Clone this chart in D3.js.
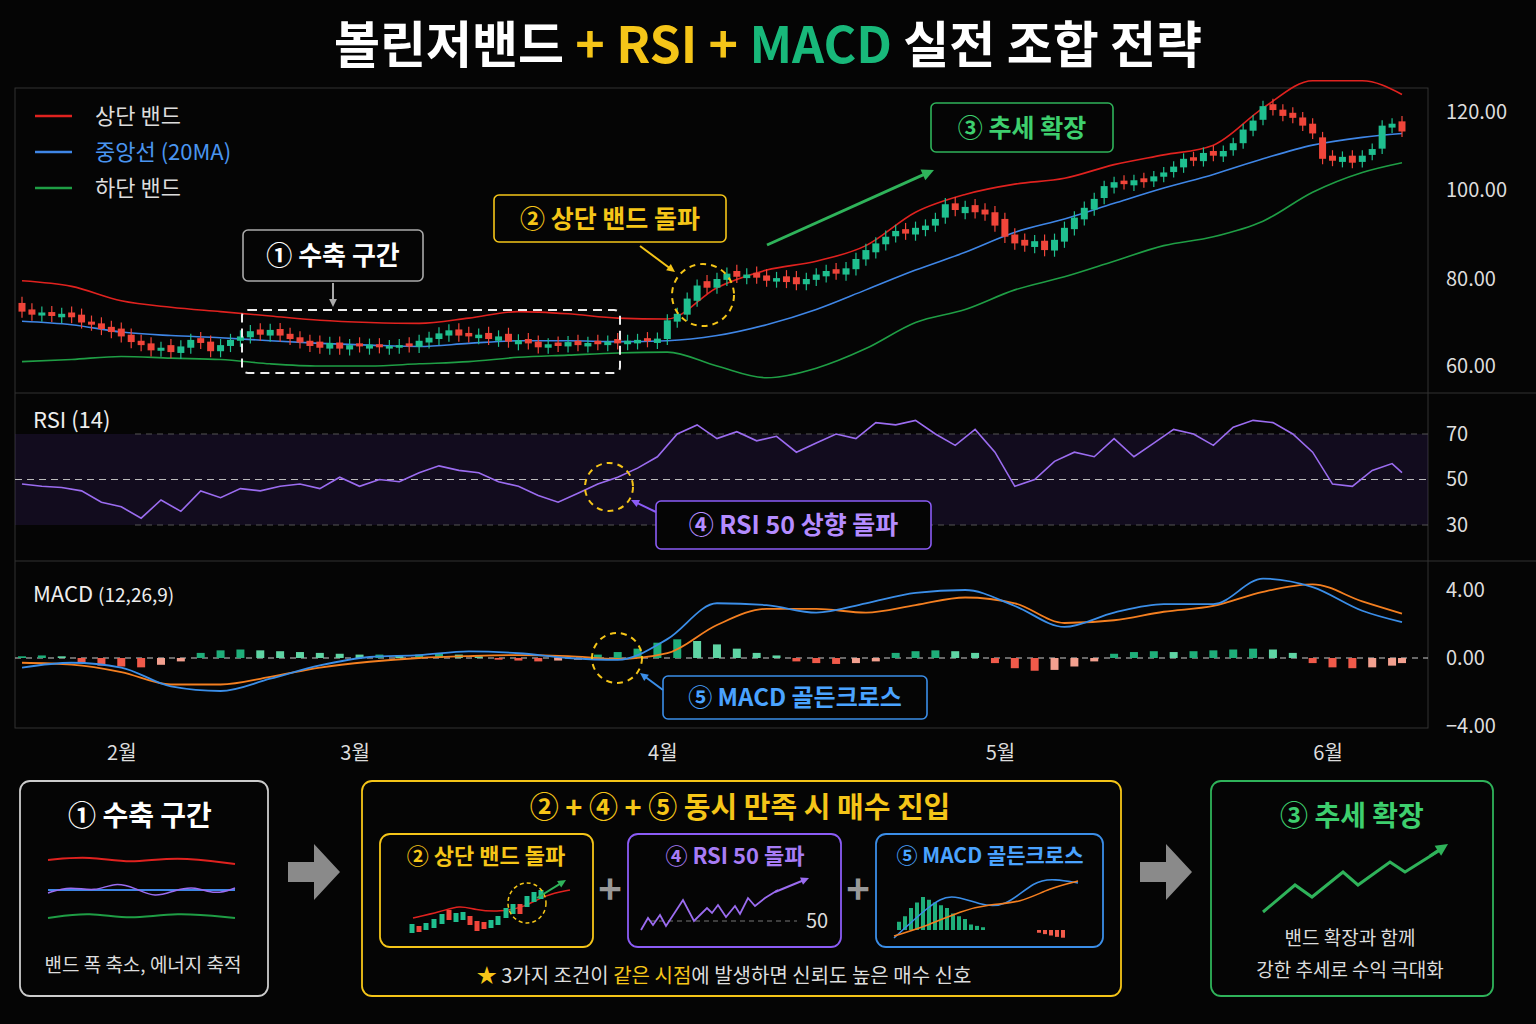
<!DOCTYPE html>
<html><head><meta charset="utf-8">
<script src="https://cdn.jsdelivr.net/npm/d3@7/dist/d3.min.js"></script>
<style>body{margin:0;background:#050505}svg{display:block}text{font-family:"Noto Sans CJK KR","Noto Sans",sans-serif}</style>
</head><body><svg id="c" width="1536" height="1024"></svg>
<script>
const closes=[72.5,71.8,72.3,71.5,72.0,71.2,70.0,69.5,68.5,67.8,
66.8,65.5,64.8,63.6,64.2,63.2,64.5,66.0,65.3,63.4,
64.8,66.0,66.8,68.0,67.2,68.3,67.0,66.2,65.4,64.6,
64.2,65.3,64.0,64.8,64.5,64.9,64.3,64.6,64.8,64.5,
65.8,66.5,67.5,68.2,67.0,66.8,67.2,66.2,66.8,65.6,
65.9,65.2,64.3,65.0,64.6,65.5,64.8,65.3,65.0,65.6,
65.2,65.8,66.0,65.7,66.3,70.5,72.0,75.5,78.5,78.0,
80.0,81.2,80.5,81.0,80.3,79.6,80.2,79.3,78.8,80.0,
81.0,81.8,81.2,82.4,84.5,86.5,88.0,89.5,90.8,90.2,
91.5,92.0,93.5,96.8,95.5,96.2,95.0,94.5,92.0,89.5,
88.0,87.5,88.5,86.5,88.8,91.5,93.8,96.0,98.0,101.0,
102.0,101.5,102.5,102.0,103.5,104.5,106.0,108.0,107.5,109.5,
108.8,110.0,112.0,115.5,117.8,121.5,120.5,119.0,118.5,116.5,
114.5,108.0,107.5,108.5,107.0,108.8,110.5,116.5,117.0,115.0];
const opens=[74.5,73.0,71.6,72.4,71.2,72.3,71.8,70.2,69.8,69.0,
68.6,67.2,65.8,65.2,63.5,64.8,63.0,64.2,66.4,65.6,
63.4,64.6,65.8,66.6,68.4,67.0,68.5,67.4,66.6,65.8,
65.6,64.0,65.4,63.8,65.2,64.0,65.0,64.0,64.2,65.2,
64.4,65.4,66.2,67.0,68.4,67.6,66.4,67.6,65.8,67.4,
65.0,66.2,65.6,64.2,65.4,64.5,65.8,64.5,65.8,64.8,
66.2,65.0,65.2,66.4,65.3,66.2,70.2,71.8,75.0,79.5,
78.0,79.8,81.8,80.2,81.4,80.8,79.4,80.6,80.4,78.8,
79.8,80.6,82.2,81.0,82.2,84.4,86.0,87.8,89.6,91.2,
90.0,91.0,92.0,93.8,97.0,94.8,96.6,95.6,95.0,93.5,
90.0,88.8,87.2,88.6,86.4,88.4,91.2,93.4,95.6,98.2,
100.6,102.4,101.2,103.0,102.2,103.4,104.6,105.8,108.4,107.4,
110.0,108.6,110.2,112.0,115.2,118.0,122.0,120.6,119.8,118.6,
117.0,113.5,108.8,107.2,108.8,107.2,109.0,110.6,116.0,117.6];
const bandIdx=[0,5,10,15,20,25,30,35,40,45,50,55,60,65,70,75,80,85,90,95,100,105,110,115,120,125,130,135,139];
const upper=[79.6,78.3,75.0,73.5,72.5,71.5,70.5,70.0,69.8,71.0,72.5,72.0,71.0,70.8,78.0,82.0,84.0,87.5,95.0,99.0,101.5,103.0,106.5,109.0,111.5,121.0,128.0,128.0,124.5];
const middle=[70.3,69.5,67.8,67.0,66.5,65.8,65.2,64.8,64.5,65.2,65.8,65.8,65.6,65.8,67.0,69.5,73.0,77.5,82.0,86.0,90.5,93.5,97.0,100.5,104.0,108.0,111.5,113.5,114.5];
const lower=[61.0,61.5,62.2,61.8,61.5,60.5,60.0,60.0,60.5,61.0,62.0,62.5,63.0,63.2,60.0,57.3,59.5,64.0,70.0,73.0,77.5,80.5,84.0,87.5,89.5,93.0,99.5,104.5,107.0];
const rsi=[48,47,46.5,45,40,38,33,41,36,45,42,46,45,47,48,46,51,47,50,49,53,56,54,53,49,47,43,40,44,48,51,55,60,70,74,68,71,67,69,62,66,70,68,75,74,76,70,65,72,62,47,50,58,62,60,68,60,66,72,70,65,73,76,75,70,62,48,47,54,57,53];
const macd=[-0.56,-0.28,-0.56,-1.67,-1.94,-1.22,-0.44,0.06,0.17,0.39,0.28,0,-0.11,1.11,3.22,3.11,2.67,3.22,3.83,4.0,3.06,1.83,2.67,3.17,3.17,4.67,4.17,2.78,2.11];
const signal=[-0.28,-0.39,-0.83,-1.56,-1.56,-1.11,-0.56,-0.22,0,0.11,0.17,0.11,-0.06,0.28,1.94,2.89,2.89,2.67,3.11,3.56,3.22,2.06,2.22,2.72,3.06,3.89,4.33,3.33,2.61];
const hist=[0.1,0.15,0.1,-0.3,-0.45,-0.5,-0.55,-0.4,-0.2,0.3,0.45,0.5,0.45,0.4,0.35,0.3,0.25,0.2,0.2,0.15,0.2,0.25,0.2,0.1,-0.1,-0.15,-0.2,-0.15,-0.1,0.2,0.35,0.55,0.9,1.1,1.0,0.8,0.55,0.3,0.15,-0.2,-0.3,-0.35,-0.3,-0.2,0.3,0.4,0.45,0.4,0.3,-0.3,-0.6,-0.75,-0.7,-0.5,-0.2,0.25,0.35,0.4,0.35,0.4,0.45,0.5,0.55,0.5,0.3,-0.3,-0.55,-0.6,-0.55,-0.45,-0.3];
const monthIdx=[10,33.5,64.5,98.5,131.5];
const monthLabels=["2월","3월","4월","5월","6월"];
const priceTicks=[60,80,100,120];
const rsiTicks=[30,50,70];
const macdTicks=[-4,0,4];

const svg=d3.select("#c");
const L=15,R=1428;
const x=d3.scaleLinear().domain([0,139]).range([22,1402]);
const yP=d3.scaleLinear().domain([60,80,100,120]).range([366,279,190,112]);
const yR=d3.scaleLinear().domain([30,70]).range([525,434]);
const yM=d3.scaleLinear().domain([-4,4]).range([726,590]);

const t=svg.append("text").attr("x",768).attr("y",63).attr("text-anchor","middle").attr("font-size",50).attr("font-weight",700);
t.append("tspan").attr("fill","#fff").text("볼린저밴드 ");
t.append("tspan").attr("fill","#f5c518").text("+ RSI + ");
t.append("tspan").attr("fill","#18b87a").text("MACD");
t.append("tspan").attr("fill","#fff").text(" 실전 조합 전략");

svg.append("rect").attr("x",L).attr("y",88).attr("width",R-L).attr("height",640).attr("fill","none").attr("stroke","#333");
[393,561].forEach(v=>svg.append("line").attr("x1",L).attr("x2",1536).attr("y1",v).attr("y2",v).attr("stroke","#333"));

const ax=(sc,ticks,fmt)=>svg.append("g").attr("transform",`translate(${R},0)`).call(d3.axisRight(sc).tickValues(ticks).tickFormat(fmt).tickSize(0).tickPadding(18))
 .call(g=>{g.select(".domain").remove();g.selectAll("text").attr("fill","#ddd").attr("font-size",20).attr("font-family","Noto Sans, sans-serif");});
ax(yP,priceTicks,d3.format(".2f"));
ax(yR,rsiTicks,d3.format("d"));
ax(yM,macdTicks,d3.format(".2f"));

svg.append("g").attr("transform","translate(0,738)").call(d3.axisBottom(x).tickValues(monthIdx).tickFormat((d,i)=>monthLabels[i]).tickSize(0).tickPadding(8))
 .call(g=>{g.select(".domain").remove();g.selectAll("text").attr("fill","#ddd").attr("font-size",20);});

const band=(arr,sc,col,w)=>svg.append("path").datum(arr.map((v,i)=>[bandIdx[i],v])).attr("d",d3.line().x(d=>x(d[0])).y(d=>sc(d[1])).curve(d3.curveMonotoneX)).attr("fill","none").attr("stroke",col).attr("stroke-width",w);
band(upper,yP,"#e0221f",1.6);band(middle,yP,"#3f86e6",1.6);band(lower,yP,"#1f9e45",1.6);

const cg=svg.append("g");
closes.forEach((c,i)=>{const o=opens[i],up=c>=o,col=up?"#1fbf8f":"#f0453a";
 cg.append("line").attr("x1",x(i)).attr("x2",x(i)).attr("y1",yP(Math.max(o,c)+1.4)).attr("y2",yP(Math.min(o,c)-1.4)).attr("stroke",col).attr("stroke-width",1.2);
 const y1=yP(Math.max(o,c)),h=Math.max(2,yP(Math.min(o,c))-y1);
 cg.append("rect").attr("x",x(i)-3.5).attr("width",7).attr("y",y1).attr("height",h).attr("fill",col);});

[["#e0221f","상단 밴드","#ddd"],["#3f86e6","중앙선 (20MA)","#4a95f0"],["#1f9e45","하단 밴드","#ddd"]].forEach((d,i)=>{
 svg.append("line").attr("x1",35).attr("x2",72).attr("y1",116+i*36).attr("y2",116+i*36).attr("stroke",d[0]).attr("stroke-width",2.5);
 svg.append("text").attr("x",95).attr("y",124+i*36).attr("fill",d[2]).attr("font-size",22).text(d[1]);});

svg.append("rect").attr("x",L).attr("y",yR(70)).attr("width",R-L).attr("height",yR(30)-yR(70)).attr("fill","rgba(110,60,200,0.13)");
[70,30].forEach(v=>svg.append("line").attr("x1",135).attr("x2",R).attr("y1",yR(v)).attr("y2",yR(v)).attr("stroke","#555").attr("stroke-dasharray","6,5"));
svg.append("line").attr("x1",L).attr("x2",R).attr("y1",yR(50)).attr("y2",yR(50)).attr("stroke","#bbb").attr("stroke-dasharray","7,5");
svg.append("path").datum(rsi).attr("d",d3.line().x((d,k)=>x(Math.min(139,k*2))).y(d=>yR(d))).attr("fill","none").attr("stroke","#9b6cf0").attr("stroke-width",1.6);
svg.append("text").attr("x",33).attr("y",428).attr("fill","#eee").attr("font-size",22).text("RSI (14)");

svg.append("line").attr("x1",L).attr("x2",R).attr("y1",yM(0)).attr("y2",yM(0)).attr("stroke","#ccc").attr("stroke-dasharray","6,5");
hist.forEach((v,k)=>{const prev=k?hist[k-1]:0;let col=v>=0?(v>=prev?"#1fae7a":"#5fd4a4"):(v<=prev?"#f05a4a":"#f3a08f");
 svg.append("rect").attr("x",x(Math.min(139,k*2))-4).attr("width",8).attr("y",Math.min(yM(v),yM(0))).attr("height",Math.abs(yM(v)-yM(0))).attr("fill",col);});
const ml=d3.line().x((d,i)=>x(bandIdx[i])).y(d=>yM(d)).curve(d3.curveMonotoneX);
svg.append("path").datum(signal).attr("d",ml).attr("fill","none").attr("stroke","#f47f20").attr("stroke-width",1.8);
svg.append("path").datum(macd).attr("d",ml).attr("fill","none").attr("stroke","#3b8ee8").attr("stroke-width",1.8);
const mt=svg.append("text").attr("x",33).attr("y",602).attr("fill","#eee").attr("font-size",22);
mt.append("tspan").text("MACD ");mt.append("tspan").attr("font-size",19).text("(12,26,9)");

function box(x0,y0,w,h,col,txt,tcol,fs){svg.append("rect").attr("x",x0).attr("y",y0).attr("width",w).attr("height",h).attr("rx",5).attr("fill","#050505").attr("stroke",col).attr("stroke-width",1.6);
 svg.append("text").attr("x",x0+w/2).attr("y",y0+h/2+fs*0.36).attr("text-anchor","middle").attr("fill",tcol).attr("font-size",fs).attr("font-weight",700).text(txt);}
function arrow(x1,y1,x2,y2,col,w){const a=Math.atan2(y2-y1,x2-x1),s=w*4.5;
 svg.append("line").attr("x1",x1).attr("y1",y1).attr("x2",x2-Math.cos(a)*s*0.8).attr("y2",y2-Math.sin(a)*s*0.8).attr("stroke",col).attr("stroke-width",w);
 svg.append("path").attr("d",`M${x2},${y2}L${x2-Math.cos(a-0.45)*s},${y2-Math.sin(a-0.45)*s}L${x2-Math.cos(a+0.45)*s},${y2-Math.sin(a+0.45)*s}Z`).attr("fill",col);}
function circ(cx,cy,r){svg.append("circle").attr("cx",cx).attr("cy",cy).attr("r",r).attr("fill","none").attr("stroke","#f5c518").attr("stroke-width",2).attr("stroke-dasharray","6,5");}
svg.append("rect").attr("x",242).attr("y",310).attr("width",378).attr("height",63).attr("rx",6).attr("fill","none").attr("stroke","#eee").attr("stroke-width",2).attr("stroke-dasharray","9,6");
box(243,230,180,51,"#aaa","① 수축 구간","#fff",26);
arrow(333,283,333,307,"#aaa",2);
box(494,195,232,47,"#f5c518","② 상단 밴드 돌파","#f5c518",25);
arrow(640,246,675,272,"#f5c518",2);
circ(703,295,31);
box(931,103,182,49,"#2fb35a","③ 추세 확장","#3ecf6e",25);
arrow(767,245,934,170,"#2fb35a",3);
circ(609,487,24);
box(656,501,275,48,"#8b5cf6","④ RSI 50 상향 돌파","#b48cff",25);
arrow(656,512,631,500,"#8b5cf6",2);
circ(617,658,25);
box(663,676,264,43,"#3b8ee8","⑤ MACD 골든크로스","#4aa3ff",24);
arrow(663,690,640,673,"#3b8ee8",2);

function panel(x0,y0,w,h,col){svg.append("rect").attr("x",x0).attr("y",y0).attr("width",w).attr("height",h).attr("rx",10).attr("fill","#050505").attr("stroke",col).attr("stroke-width",1.8);}
function txt(x0,y0,s,fs,col,fw){return svg.append("text").attr("x",x0).attr("y",y0).attr("text-anchor","middle").attr("fill",col).attr("font-size",fs).attr("font-weight",fw||400).text(s);}
const poly=(pts,col,w)=>svg.append("path").attr("d",d3.line().curve(d3.curveLinear)(pts)).attr("fill","none").attr("stroke",col).attr("stroke-width",w);
const smooth=(pts,col,w)=>svg.append("path").attr("d",d3.line().curve(d3.curveBasis)(pts)).attr("fill","none").attr("stroke",col).attr("stroke-width",w);
panel(20,781,248,215,"#ccc");
txt(140,826,"① 수축 구간",28,"#fff",700);
smooth([[48,860],[90,856],[130,864],[175,856],[235,864]],"#e0221f",2);
poly([[48,890],[235,890]],"#3f86e6",2);
smooth([[48,893],[70,886],[95,892],[115,882],[135,888],[155,898],[175,890],[195,886],[215,895],[235,888]],"#9b6cf0",1.5);
smooth([[48,918],[90,912],[130,920],[175,912],[235,918]],"#1f9e45",2);
txt(143,972,"밴드 폭 축소, 에너지 축적",19,"#ddd");
const gray=(x0)=>svg.append("path").attr("d",`M${x0},862h26v-18l26,28l-26,28v-18h-26z`).attr("fill","#8a8a8a");
gray(288);gray(1140);
panel(362,781,759,215,"#f5c518");
txt(740,818,"② + ④ + ⑤ 동시 만족 시 매수 진입",29,"#f5c518",700);
panel(380,834,213,113,"#f5c518");panel(628,834,213,113,"#8b5cf6");panel(876,834,227,113,"#3b8ee8");
txt(486,864,"② 상단 밴드 돌파",22,"#f5c518",700);
txt(735,864,"④ RSI 50 돌파",22,"#a77cf5",700);
txt(990,863,"⑤ MACD 골든크로스",21,"#4aa3ff",700);
smooth([[413,918],[440,912],[460,905],[475,910],[500,912],[525,907],[545,895],[570,890]],"#e0221f",1.5);
const mini=[[412,933,924,1],[419,932,926,0],[426,930,923,1],[434,928,919,1],[442,924,914,1],[449,920,910,0],[456,922,913,1],[463,920,912,1],[470,925,916,0],[477,931,921,0],[484,929,922,0],[491,928,920,1],[498,925,916,1],[506,918,908,1],[513,914,904,1],[520,914,904,0],[527,907,896,1],[534,902,892,1],[541,899,890,1]];
mini.forEach(d=>svg.append("rect").attr("x",d[0]-2.5).attr("y",d[2]).attr("width",5).attr("height",d[1]-d[2]).attr("fill",d[3]?"#1fbf8f":"#f0453a"));
svg.append("ellipse").attr("cx",527).attr("cy",903).attr("rx",19).attr("ry",20).attr("fill","none").attr("stroke","#f5c518").attr("stroke-width",1.5).attr("stroke-dasharray","4,3");
arrow(537,898,566,880,"#2fb35a",2);
txt(610,904,"+",40,"#999",700);txt(858,904,"+",40,"#999",700);
svg.append("line").attr("x1",650).attr("x2",797).attr("y1",921).attr("y2",921).attr("stroke","#777").attr("stroke-dasharray","5,4");
poly([[641,930],[648,918],[653,925],[660,915],[666,926],[683,900],[694,921],[700,915],[707,908],[712,913],[718,905],[726,917],[735,906],[740,914],[748,898],[755,906],[765,898],[778,890]],"#9b6cf0",1.8);
arrow(775,892,809,878,"#9b6cf0",2);
txt(817,928,"50",20,"#ddd");
const mh=[[897,3],[903,5],[909,8],[915,10],[921,12],[927,11],[933,10],[939,9],[945,8],[951,6],[957,5],[963,4],[969,2],[975,1.5],[981,1],[987,-1],[993,-1.5],[999,-2],[1005,-2.5],[1011,-2.8]];
const my=d3.scaleLinear().domain([0,12]).range([930,897]);
mh.forEach(d=>svg.append("rect").attr("x",d[0]+(d[1]<0?50:0)).attr("width",4).attr("y",d[1]>=0?my(d[1]):my(0)).attr("height",Math.abs(my(d[1])-my(0))).attr("fill",d[1]>=0?"#1fae7a":"#f05a4a"));
smooth([[894,938],[930,905],[950,893],[980,905],[1005,908],[1035,880],[1055,879],[1078,883]],"#3b8ee8",1.6);
smooth([[894,936],[930,925],[960,911],[990,904],[1020,903],[1050,888],[1078,881]],"#f47f20",1.6);
const ft=svg.append("text").attr("x",724).attr("y",983).attr("text-anchor","middle").attr("font-size",20).attr("fill","#ddd");
ft.append("tspan").attr("fill","#f5c518").text("★ ");ft.append("tspan").text("3가지 조건이 ");ft.append("tspan").attr("fill","#f5c518").text("같은 시점");ft.append("tspan").text("에 발생하면 신뢰도 높은 매수 신호");
panel(1211,781,282,215,"#2fb35a");
txt(1352,826,"③ 추세 확장",28,"#3ecf6e",700);
poly([[1263,912],[1295,885],[1312,897],[1343,872],[1358,885],[1390,862],[1405,872],[1440,850]],"#2fb35a",3);
arrow(1430,856,1448,844,"#2fb35a",3);
txt(1350,945,"밴드 확장과 함께",19,"#ddd");
txt(1350,977,"강한 추세로 수익 극대화",19,"#ddd");
</script></body></html>
